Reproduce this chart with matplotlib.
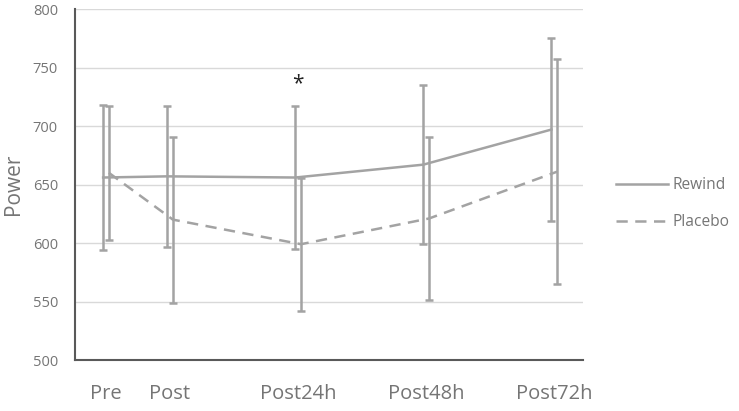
import matplotlib
matplotlib.use("Agg")
import matplotlib.pyplot as plt
import numpy as np
from matplotlib.lines import Line2D

categories = ["Pre", "Post", "Post24h", "Post48h", "Post72h"]
positions = [0, 1, 3, 5, 7]
rewind = [656, 657, 656, 667, 697]
rewind_err = [62, 60, 61, 68, 78]
placebo = [660, 620, 599, 621, 661]
placebo_err = [57, 71, 57, 70, 96]
yticks = [500, 550, 600, 650, 700, 750, 800]

gray = "#a3a3a3"
txt = "#757575"
plt.rcParams['font.family'] = ['Open Sans', 'DejaVu Sans']

fig = plt.figure(figsize=(7.39, 4.11), dpi=100)
ax = fig.add_axes([0.101, 0.124, 0.688, 0.854])

pos = np.array(positions, dtype=float)
off = 0.045
dash = (0, (4.5, 3))
ax.errorbar(pos - off, rewind, yerr=rewind_err, color=gray, lw=1.8, elinewidth=1.8,
            capsize=3, capthick=1.8, zorder=3)
ax.errorbar(pos + off, placebo, yerr=placebo_err, color=gray, lw=1.8, elinewidth=1.8,
            capsize=3, capthick=1.8, linestyle=dash, zorder=3)

ax.text(pos[2], 736, "*", ha="center", va="center", fontsize=15, color="#222222")

ax.set_xlim(-0.49, 7.45)
ax.set_ylim(500, 800)
ax.set_yticks(yticks)
ax.set_xticks(pos)
ax.set_xticklabels(categories)
ax.grid(axis="y", color="#d9d9d9", lw=1)
ax.set_axisbelow(True)
for s in ["top", "right"]:
    ax.spines[s].set_visible(False)
for s in ["left", "bottom"]:
    ax.spines[s].set_color("#595959")
    ax.spines[s].set_linewidth(1.5)
ax.tick_params(axis="both", length=0, labelcolor=txt)
ax.tick_params(axis="y", pad=12, labelsize=10.5)
ax.tick_params(axis="x", pad=17, labelsize=14.5)
fig.text(0.0176, 0.552, "Power", rotation=90, ha="center", va="center",
         fontsize=15, color=txt)

handles = [Line2D([], [], color=gray, lw=1.8),
           Line2D([], [], color=gray, lw=1.8, linestyle=dash)]
fig.legend(handles, ["Rewind", "Placebo"], loc="center left",
           bbox_to_anchor=(0.815, 0.505), frameon=False, fontsize=11.2,
           labelcolor=txt, handlelength=3.3, handletextpad=0.3, labelspacing=1.35)

fig.savefig("out.png", dpi=100)
